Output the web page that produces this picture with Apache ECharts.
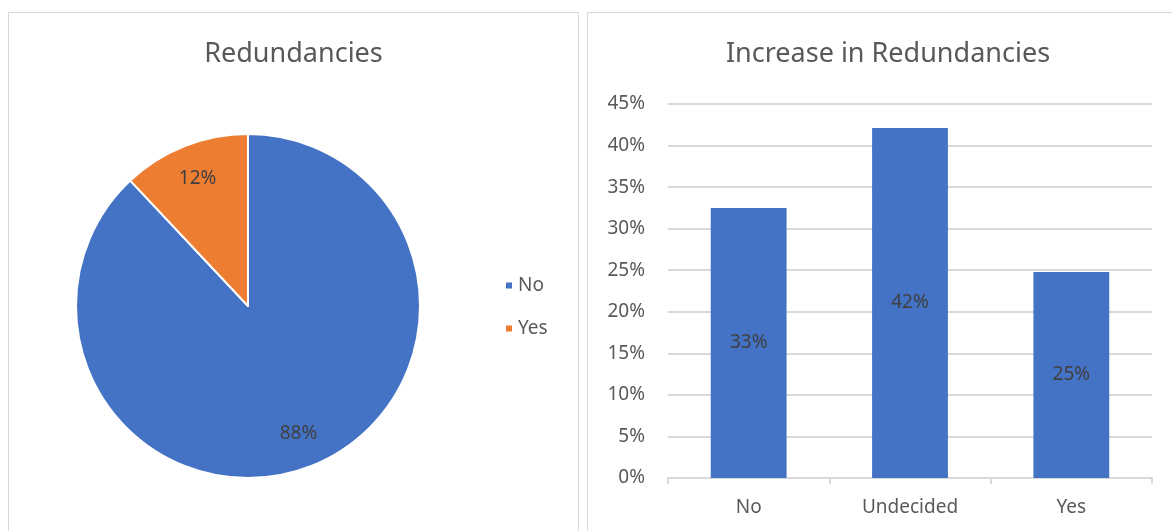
<!DOCTYPE html>
<html>
<head>
<meta charset="utf-8">
<script src="https://cdn.jsdelivr.net/npm/echarts@6/dist/echarts.min.js"></script>
<style>
  body { margin: 0; background: #fff; width: 1172px; height: 531px; overflow: hidden; position: relative; }
  .panel { position: absolute; border: 1px solid #d9d9d9; background: #fff; }
  #pieBox { left: 8px; top: 12px; width: 569px; height: 530px; }
  #barBox { left: 587px; top: 12px; width: 600px; height: 530px; }
</style>
</head>
<body>
<div id="pieBox" class="panel"></div>
<div id="barBox" class="panel"></div>
<script>
// 饼图数据
const pieNames = ['No', 'Yes'];
const pieValues = [88, 12];
const pieColors = ['#4472c4', '#ed7d31'];

// 柱状图数据
const barCategories = ['No', 'Undecided', 'Yes'];
const barValues = [32.5, 42.1, 24.8];
const yTicks = [0, 5, 10, 15, 20, 25, 30, 35, 40, 45];

const font = 'Noto Sans';
const textColor = '#595959';

const pieData = pieNames.map((name, i) => ({ name, value: pieValues[i] }));

const pieChart = echarts.init(document.getElementById('pieBox'));
pieChart.setOption({
    animation: false,
    color: pieColors,
    title: {
        text: 'Redundancies',
        left: 'center',
        top: 23,
        textStyle: { fontFamily: font, fontSize: 27, fontWeight: 'normal', color: textColor }
    },
    legend: {
        orient: 'vertical',
        left: 490,
        top: 258,
        icon: 'rect',
        itemWidth: 8,
        itemHeight: 8,
        itemGap: 24,
        data: pieNames,
        textStyle: { fontFamily: font, fontSize: 19, color: textColor }
    },
    series: [
        {
            type: 'pie',
            center: [239, 293],
            radius: [0, 172],
            startAngle: 90,
            clockwise: true,
            silent: true,
            label: { show: false },
            labelLine: { show: false },
            itemStyle: { borderColor: '#fff', borderWidth: 2 },
            data: pieData
        },
        {
            // 只用来放标签的环
            type: 'pie',
            center: [239, 293],
            radius: [96, 172],
            startAngle: 90,
            clockwise: true,
            silent: true,
            legendHoverLink: false,
            itemStyle: { color: 'transparent', borderWidth: 0 },
            label: {
                show: true,
                position: 'inside',
                formatter: (p) => p.value + '%',
                fontFamily: font,
                fontSize: 19,
                color: '#404040'
            },
            labelLine: { show: false },
            data: pieData
        }
    ]
});

const barChart = echarts.init(document.getElementById('barBox'));
barChart.setOption({
    animation: false,
    title: {
        text: 'Increase in Redundancies',
        left: 'center',
        top: 23,
        textStyle: { fontFamily: font, fontSize: 27, fontWeight: 'normal', color: textColor }
    },
    grid: { left: 80, right: 36, top: 91, bottom: 65 },
    xAxis: {
        type: 'category',
        data: barCategories,
        axisLine: { lineStyle: { color: '#d9d9d9', width: 2 } },
        axisTick: { show: true, length: 6, lineStyle: { color: '#d9d9d9', width: 2 } },
        axisLabel: { margin: 20, fontFamily: font, fontSize: 19, color: textColor }
    },
    yAxis: {
        type: 'value',
        min: yTicks[0],
        max: yTicks[yTicks.length - 1],
        interval: yTicks[1] - yTicks[0],
        axisLine: { show: false },
        axisTick: { show: false },
        splitLine: { lineStyle: { color: '#d9d9d9', width: 2 } },
        axisLabel: { margin: 23, formatter: '{value}%', fontFamily: font, fontSize: 19, color: textColor }
    },
    series: [{
        type: 'bar',
        data: barValues,
        barWidth: '47%',
        itemStyle: { color: '#4472c4' },
        label: {
            show: true,
            position: 'inside',
            formatter: (p) => Math.round(p.value) + '%',
            fontFamily: font,
            fontSize: 19,
            color: '#404040'
        }
    }]
});
</script>
</body>
</html>
